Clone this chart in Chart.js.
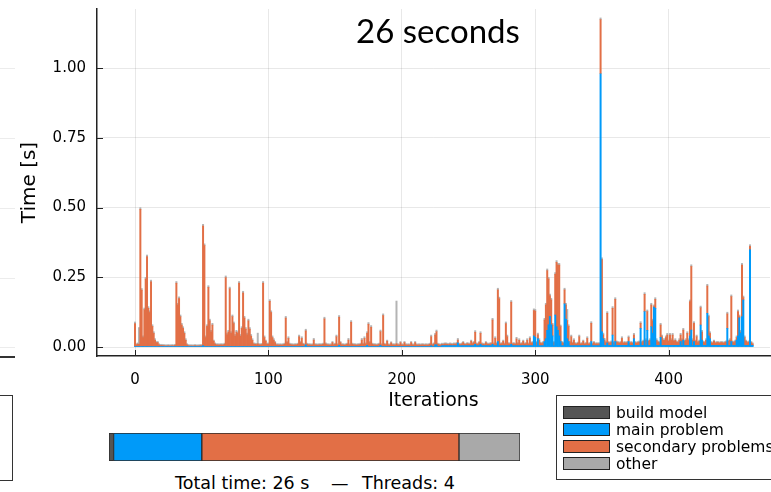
<!DOCTYPE html>
<html>
<head>
<meta charset="utf-8">
<script src="https://cdn.jsdelivr.net/npm/chart.js@4.4.1/dist/chart.umd.min.js"></script>
<style>
    body { margin: 0; width: 771px; height: 492px; overflow: hidden; background: #fff; position: relative; font-family: "DejaVu Sans", sans-serif; color: #000; }
    #main-chart { position: absolute; left: 0; top: 0; }
    #total-chart { position: absolute; left: 108px; top: 432px; }
    .title { position: absolute; left: 318px; top: 10px; width: 240px; text-align: center; font: 33px/40px Lato, "Open Sans", sans-serif; }
    .totals { position: absolute; top: 473px; font-size: 17.5px; line-height: 20px; white-space: pre; }
    .legend { position: absolute; left: 556px; top: 395px; width: 240px; height: 85px; border: 1px solid #333; box-sizing: border-box; padding-top: 8px; }
    .legend-row { height: 17px; display: flex; align-items: center; white-space: nowrap; font-size: 15.5px; }
    .swatch { width: 47px; height: 13px; border: 1px solid #222; margin: 0 6px 0 6px; box-sizing: border-box; }
    .ghost-line { position: absolute; left: 0; width: 15px; height: 1px; background: #ececec; }
    .ghost-axis { position: absolute; left: 0; top: 356px; width: 15px; height: 2px; background: #333; }
    .ghost-box { position: absolute; left: -2px; top: 395px; width: 15px; height: 86px; border: 1px solid #333; box-sizing: border-box; }
</style>
</head>
<body>
<!-- edge of the neighbouring plot -->
<div class="ghost-line" style="top:68px"></div>
<div class="ghost-line" style="top:138px"></div>
<div class="ghost-line" style="top:208px"></div>
<div class="ghost-line" style="top:278px"></div>
<div class="ghost-line" style="top:347px"></div>
<div class="ghost-axis"></div>
<div class="ghost-box"></div>

<canvas id="main-chart" width="771" height="420"></canvas>
<div class="title">26 seconds</div>
<canvas id="total-chart" width="413" height="30"></canvas>
<div class="totals" style="left:175px">Total time: 26 s</div>
<div class="totals" style="left:331px">—</div>
<div class="totals" style="left:362px">Threads: 4</div>
<div class="legend" id="legend"></div>

<script>
// --- per-iteration times, in milliseconds ---
const mainMs = [
    2,2,2,2,2,2,2,2,2,2,2,2,2,2,2,2,2,2,2,2,
    2,2,2,2,2,2,2,2,2,2,2,2,2,2,2,2,2,2,2,2,
    2,2,2,2,2,2,2,2,2,2,2,5,2,2,2,2,2,2,2,2,
    2,2,2,2,2,2,2,2,2,2,2,2,2,2,2,2,2,2,2,2,
    2,2,2,2,2,2,2,2,2,2,2,2,2,2,2,2,2,2,2,2,
    2,2,2,2,2,2,2,2,2,2,2,2,2,2,2,2,2,2,2,2,
    2,2,2,2,2,2,2,2,8,2,2,2,2,2,2,2,2,2,2,2,
    2,2,2,2,2,2,2,2,2,2,2,2,2,6,2,2,2,2,2,2,
    2,2,2,2,2,2,2,2,2,2,2,2,2,2,6,2,2,2,2,2,
    2,2,2,2,6,2,2,2,2,2,2,2,2,2,2,2,2,2,2,2,
    2,2,2,2,2,2,2,2,2,2,2,2,2,2,2,2,2,2,2,2,
    2,2,5,2,2,8,8,2,2,2,5,5,5,5,5,5,5,5,5,5,
    5,5,15,5,5,5,5,5,5,5,5,5,5,5,5,10,5,5,5,10,
    5,5,5,5,5,5,5,5,10,5,5,5,20,5,5,5,5,5,5,5,
    5,5,10,5,5,5,5,5,5,5,5,5,5,5,5,5,5,5,5,40,
    35,5,30,5,5,5,5,20,30,60,80,110,80,40,5,115,73,60,40,20,
    5,5,155,100,30,20,5,5,5,5,5,5,5,5,5,5,5,5,5,5,
    5,5,20,5,5,5,5,5,5,980,55,30,6,6,15,6,6,6,43,6,
    20,6,6,6,6,6,6,6,6,6,20,6,6,6,30,6,6,6,6,67,
    6,6,127,6,60,6,6,73,50,143,139,6,6,6,35,6,6,6,6,6,
    6,6,6,6,6,6,6,6,6,20,6,25,6,6,6,6,40,61,6,20,
    6,6,6,6,79,25,6,6,6,121,40,30,6,6,6,6,6,6,6,6,
    6,6,6,6,67,6,6,20,6,6,6,25,40,105,50,109,169,6,6,6,
    6,349,6,6
];

const secondaryMs = [
    82,6,9,8,492,202,32,132,242,322,137,122,232,72,47,22,14,14,6,4,
    4,3,3,2,2,3,2,2,3,2,4,227,149,172,107,77,65,47,22,6,
    3,2,2,2,2,3,2,2,2,3,3,429,362,32,72,212,92,52,77,19,
    9,6,6,5,6,6,5,8,247,42,52,207,47,107,82,37,52,47,227,37,
    65,192,102,62,42,92,62,37,22,9,8,7,10,6,6,7,227,32,19,8,
    9,162,122,32,22,14,6,6,5,6,5,6,8,102,14,29,8,6,6,5,
    6,6,8,35,14,29,8,6,50,8,6,6,5,6,23,6,6,5,6,6,
    6,8,99,9,6,6,5,6,14,6,8,35,6,101,14,6,6,5,6,8,
    23,6,87,8,6,6,5,6,6,8,23,8,29,9,43,80,14,69,8,6,
    6,5,6,8,49,6,111,8,6,19,6,5,13,6,6,5,10,6,5,14,
    6,5,14,6,5,6,5,14,6,5,14,6,5,6,5,6,6,5,6,5,
    6,8,32,6,9,35,47,8,6,5,5,4,6,6,5,4,6,5,4,6,
    5,7,10,5,4,6,11,5,4,7,6,5,16,7,11,43,6,5,11,39,
    6,5,4,11,6,5,6,7,87,6,26,7,185,168,6,7,16,6,79,32,
    7,6,151,6,7,5,24,7,19,6,7,16,6,7,19,6,26,9,11,91,
    94,11,14,19,9,7,11,77,121,214,164,74,89,39,11,146,231,234,254,53,
    11,9,50,51,65,54,11,32,9,19,7,6,9,32,6,7,16,6,7,26,
    6,7,65,6,11,6,7,6,7,194,259,14,19,10,106,10,8,12,96,10,
    151,12,10,8,10,25,8,10,8,10,14,8,10,8,13,10,8,10,12,18,
    10,15,62,18,67,15,18,78,44,2,32,18,12,10,44,31,18,18,28,37,
    15,37,18,37,15,18,12,10,18,23,18,36,15,18,43,18,123,228,18,65,
    15,31,10,15,62,29,12,10,18,98,69,19,10,8,15,8,10,10,8,10,
    10,8,10,12,52,15,18,161,12,10,15,9,87,4,4,185,8,28,15,10,
    12,12,10,5
];

const otherMs = [
    6,4,4,60,6,6,6,6,6,6,6,6,6,6,6,6,4,4,4,4,
    4,4,4,4,4,4,4,4,4,4,4,6,6,6,6,6,6,6,6,4,
    4,4,4,4,4,4,4,4,4,4,4,6,6,6,6,6,6,6,6,4,
    4,4,4,4,4,4,4,4,6,6,6,6,6,6,6,6,6,6,6,6,
    6,6,6,6,6,6,6,6,6,4,4,4,38,4,4,4,6,6,4,4,
    4,6,6,6,6,4,4,4,4,4,4,4,4,6,4,6,4,4,4,4,
    4,4,4,6,4,6,4,4,6,4,4,4,4,4,6,4,4,4,4,4,
    4,4,6,4,4,4,4,4,4,4,4,6,4,6,4,4,4,4,4,4,
    6,4,6,4,4,4,4,4,4,4,6,4,6,4,6,6,4,6,4,4,
    4,4,4,4,6,4,6,4,4,4,4,4,4,4,4,4,153,4,4,4,
    4,4,4,4,4,4,4,4,4,4,4,4,4,4,4,4,4,4,4,4,
    4,4,6,4,4,6,6,4,4,4,4,4,4,4,4,4,4,4,4,4,
    4,4,6,4,4,4,4,4,4,4,4,4,4,4,4,6,4,4,4,6,
    4,4,4,4,4,4,4,4,6,4,6,4,6,6,4,4,4,4,6,6,
    4,4,6,4,4,4,6,4,6,4,4,4,4,4,6,4,6,4,4,6,
    6,4,6,6,4,4,4,6,6,6,6,6,6,6,4,6,6,6,6,6,
    4,4,6,6,40,6,4,6,4,6,4,4,4,6,4,4,4,4,4,6,
    4,4,6,4,4,4,4,4,4,6,6,6,6,4,6,4,4,4,6,4,
    6,4,4,4,4,6,4,4,4,4,6,4,4,4,6,4,4,4,4,6,
    4,4,6,6,6,4,6,6,6,6,6,6,4,4,6,6,6,6,6,6,
    4,6,6,6,4,6,4,4,6,6,6,6,4,6,6,6,6,6,6,6,
    4,6,4,4,6,6,4,4,6,6,6,6,4,4,4,4,4,4,4,4,
    4,4,4,4,6,4,6,6,4,4,4,6,6,6,6,6,6,6,4,4,
    4,6,4,4
];

const iterations = mainMs.map((_, i) => i);
const xTicks = [0, 100, 200, 300, 400];
const yTicks = [0, 0.25, 0.5, 0.75, 1.0];

// --- whole-run totals, in seconds ---
const phaseNames = ['build model', 'main problem', 'secondary problems', 'other'];
const phaseTotals = [0.29, 5.58, 16.27, 3.86];
const phaseColors = ['#555555', '#009af9', '#e26f46', '#a9a9a9'];

Chart.defaults.font.family = '"DejaVu Sans", sans-serif';
Chart.defaults.color = '#000';
Chart.defaults.animation = false;

// ticks drawn inward from the axis lines
const innerTicks = {
    id: 'innerTicks',
    afterDraw(chart) {
        const { ctx, chartArea, scales: { x, y } } = chart;
        ctx.save();
        ctx.strokeStyle = '#222';
        ctx.lineWidth = 1;
        ctx.beginPath();
        yTicks.forEach(v => {
            const py = Math.round(y.getPixelForValue(v)) + 0.5;
            ctx.moveTo(chartArea.left, py);
            ctx.lineTo(chartArea.left + 6, py);
        });
        xTicks.forEach(v => {
            const px = Math.round(x.getPixelForValue(v)) + 0.5;
            ctx.moveTo(px, chartArea.bottom);
            ctx.lineTo(px, chartArea.bottom - 6);
        });
        ctx.stroke();
        ctx.restore();
    }
};

function toSeconds(arr) {
    return arr.map(v => v / 1000);
}

function renderIterationChart() {
    const canvas = document.getElementById('main-chart');
    if (!canvas) {
        console.error('missing canvas #main-chart');
        return null;
    }
    const gridColor = 'rgba(0,0,0,0.09)';
    return new Chart(canvas.getContext('2d'), {
        type: 'bar',
        data: {
            labels: iterations,
            datasets: [
                { label: phaseNames[1], data: toSeconds(mainMs), backgroundColor: phaseColors[1] },
                { label: phaseNames[2], data: toSeconds(secondaryMs), backgroundColor: phaseColors[2] },
                { label: phaseNames[3], data: toSeconds(otherMs), backgroundColor: '#b4b4b4' }
            ]
        },
        options: {
            responsive: false,
            devicePixelRatio: 1,
            layout: { padding: { top: 9, right: 1, left: 0, bottom: 0 } },
            datasets: { bar: { barPercentage: 1, categoryPercentage: 1, borderWidth: 0 } },
            plugins: { legend: { display: false }, tooltip: { enabled: false } },
            scales: {
                x: {
                    type: 'linear', stacked: true, offset: false, min: -28.5, max: 476,
                    afterBuildTicks: s => { s.ticks = xTicks.map(v => ({ value: v })); },
                    afterFit: s => { s.height = 64; s.paddingLeft = 0; s.paddingRight = 0; },
                    ticks: { font: { size: 15 }, padding: 15, maxRotation: 0, callback: v => String(v) },
                    grid: { color: gridColor, drawTicks: false, offset: false },
                    border: { color: '#222', width: 1.5 },
                    title: { display: true, text: 'Iterations', font: { size: 19 }, padding: { top: 0, bottom: 8 } }
                },
                y: {
                    stacked: true, min: -0.032, max: 1.212,
                    afterBuildTicks: s => { s.ticks = yTicks.map(v => ({ value: v })); },
                    afterFit: s => { s.width = 97; s.paddingTop = 0; s.paddingBottom = 0; },
                    ticks: { font: { size: 15 }, padding: 11, callback: v => v.toFixed(2) },
                    grid: { color: gridColor, drawTicks: false },
                    border: { color: '#222', width: 1.5 },
                    title: { display: true, text: 'Time [s]', font: { size: 20 }, padding: { top: 18, bottom: 0 } }
                }
            }
        },
        plugins: [innerTicks]
    });
}

function renderTotalsBar() {
    const canvas = document.getElementById('total-chart');
    if (!canvas) {
        console.error('missing canvas #total-chart');
        return null;
    }
    return new Chart(canvas.getContext('2d'), {
        type: 'bar',
        data: {
            labels: [''],
            datasets: phaseNames.map((name, i) => ({
                label: name,
                data: [phaseTotals[i]],
                backgroundColor: phaseColors[i],
                borderColor: '#2a2a2a',
                borderWidth: 1,
                borderSkipped: false
            }))
        },
        options: {
            indexAxis: 'y',
            responsive: false,
            devicePixelRatio: 1,
            layout: { padding: 1 },
            datasets: { bar: { barPercentage: 1, categoryPercentage: 1 } },
            plugins: { legend: { display: false }, tooltip: { enabled: false } },
            scales: {
                x: { stacked: true, display: false, min: 0, max: phaseTotals.reduce((a, b) => a + b, 0) },
                y: { stacked: true, display: false }
            }
        }
    });
}

function renderLegend() {
    const box = document.getElementById('legend');
    if (!box) return;
    phaseNames.forEach((name, i) => {
        const row = document.createElement('div');
        row.className = 'legend-row';
        const sw = document.createElement('span');
        sw.className = 'swatch';
        sw.style.background = phaseColors[i];
        const txt = document.createElement('span');
        txt.textContent = name;
        row.appendChild(sw);
        row.appendChild(txt);
        box.appendChild(row);
    });
}

renderIterationChart();
renderTotalsBar();
renderLegend();
</script>
</body>
</html>
